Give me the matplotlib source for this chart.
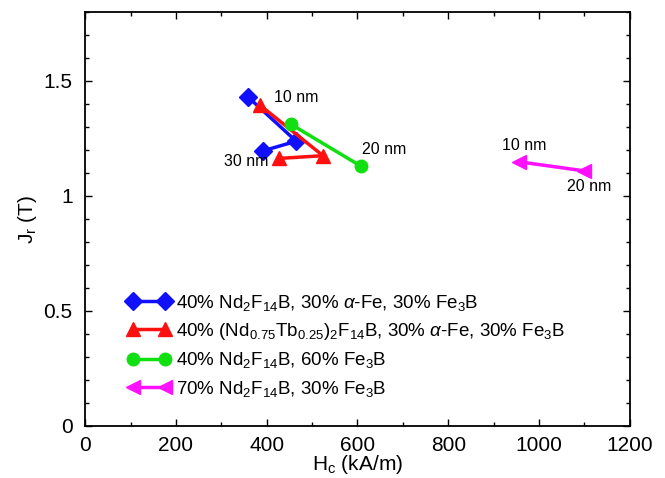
import matplotlib
matplotlib.use("Agg")
import matplotlib.pyplot as plt
from matplotlib.ticker import MultipleLocator

plt.rcParams['font.family'] = ['Liberation Sans', 'DejaVu Sans']
plt.rcParams['mathtext.fontset'] = 'custom'
plt.rcParams['mathtext.rm'] = 'Liberation Sans'
plt.rcParams['mathtext.it'] = 'Liberation Sans:italic'

# coercivity Hc (kA/m) and remanence Jr (T), grain size 10 -> 20 -> 30 nm
hc_ndfe_afe = [359, 465, 392]
jr_ndfe_afe = [1.43, 1.238, 1.196]

hc_ndtb_afe = [385, 524, 427]
jr_ndtb_afe = [1.395, 1.175, 1.163]

hc_ndfe_fe3b = [454, 608]
jr_ndfe_fe3b = [1.311, 1.129]

hc_70 = [957, 1100]
jr_70 = [1.148, 1.109]

labels = [
    r'40% Nd$_2$F$_{14}$B, 30% $\alpha$-Fe, 30% Fe$_3$B',
    r'40% (Nd$_{0.75}$Tb$_{0.25}$)$_2$F$_{14}$B, 30% $\alpha$-Fe, 30% Fe$_3$B',
    r'40% Nd$_2$F$_{14}$B, 60% Fe$_3$B',
    r'70% Nd$_2$F$_{14}$B, 30% Fe$_3$B',
]

fig = plt.figure(figsize=(6.65, 4.78), dpi=100)
ax = fig.add_axes([0.128, 0.109, 0.819, 0.866])

lw = 2.5
ax.plot(hc_ndfe_afe, jr_ndfe_afe, '-D', color='#1010ff', lw=lw, ms=9, label=labels[0])
ax.plot(hc_ndtb_afe, jr_ndtb_afe, '-^', color='#ff1010', lw=lw, ms=10, label=labels[1])
ax.plot(hc_ndfe_fe3b, jr_ndfe_fe3b, '-o', color='#10e010', lw=lw, ms=9, label=labels[2])
ax.plot(hc_70, jr_70, '-<', color='#ff10ff', lw=lw, ms=10, label=labels[3])

# grain size annotations
fs_nm = 11.5
ax.text(417, 1.43, '10 nm', fontsize=fs_nm, va='center')
ax.text(611, 1.20, '20 nm', fontsize=fs_nm, va='center')
ax.text(305, 1.151, '30 nm', fontsize=fs_nm, va='center')
ax.text(919, 1.22, '10 nm', fontsize=fs_nm, va='center')
ax.text(1062, 1.041, '20 nm', fontsize=fs_nm, va='center')

ax.set_xlim(0, 1200)
ax.set_ylim(0, 1.8)
ax.xaxis.set_major_locator(MultipleLocator(200))
ax.xaxis.set_minor_locator(MultipleLocator(100))
ax.yaxis.set_minor_locator(MultipleLocator(0.1))
ax.set_yticks([0, 0.5, 1, 1.5])
ax.set_yticklabels(['0', '0.5', '1', '1.5'])
ax.tick_params(which='both', direction='in', top=True, right=True, labelsize=15, width=1)
ax.tick_params(which='major', length=5)
ax.tick_params(which='minor', length=3)
ax.tick_params(axis='x', pad=7)
ax.tick_params(axis='y', pad=9)
for s in ax.spines.values():
    s.set_linewidth(1.3)

ax.set_xlabel(r'H$_\mathrm{c}$ (kA/m)', fontsize=15, labelpad=-1)
ax.set_ylabel(r'J$_\mathrm{r}$ (T)', fontsize=15, labelpad=3)

ax.legend(loc='upper left', bbox_to_anchor=(0.077, 0.322), frameon=False, fontsize=13.5,
          numpoints=2, handlelength=2.3, handletextpad=0.3, labelspacing=0.45,
          borderaxespad=0, borderpad=0)

fig.savefig('out.png', dpi=100)
